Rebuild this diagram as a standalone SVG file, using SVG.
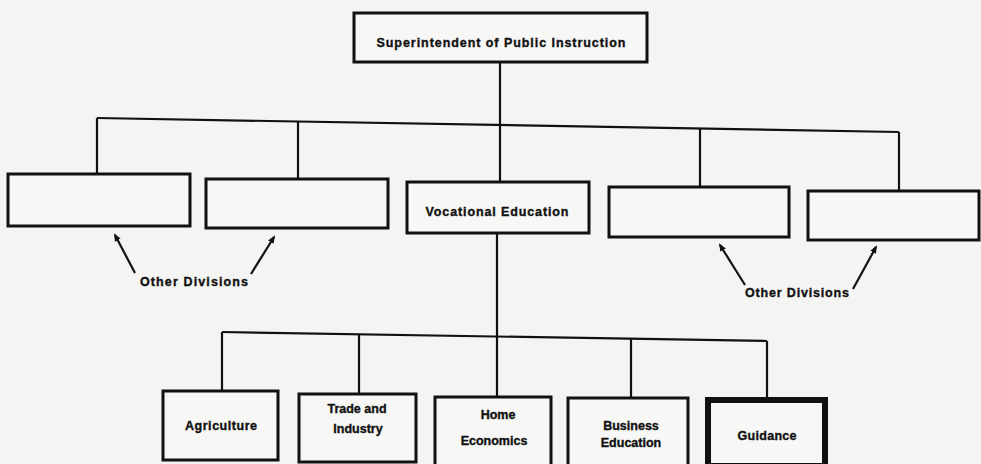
<svg xmlns="http://www.w3.org/2000/svg" width="981" height="464" viewBox="0 0 981 464">
<style>
.box{fill:#f7f7f5;stroke:#111;stroke-width:3}
.thick{fill:#f7f7f5;stroke:#111;stroke-width:6}
.con{fill:none;stroke:#111;stroke-width:2.2}
.ptr{fill:none;stroke:#111;stroke-width:2.2;marker-end:url(#ah)}
text{font-family:"Liberation Sans",Arial,sans-serif;font-weight:bold;font-size:12.5px;fill:#111;stroke:#111;stroke-width:0.35;text-anchor:middle}
</style>
<defs>
<marker id="ah" markerWidth="8" markerHeight="8" refX="6" refY="4" orient="auto" markerUnits="userSpaceOnUse">
<path d="M0,0.8 L8,4 L0,7.2 Z" fill="#111"/>
</marker>
</defs>
<rect width="981" height="464" fill="#f4f4f2"/>
<g id="connectors">
<line class="con" x1="500" y1="62" x2="500" y2="182"/>
<line class="con" x1="97" y1="118" x2="899" y2="132"/>
<line class="con" x1="97" y1="118" x2="97" y2="174"/>
<line class="con" x1="298" y1="121" x2="298" y2="179"/>
<line class="con" x1="700" y1="128" x2="700" y2="187"/>
<line class="con" x1="899" y1="132" x2="899" y2="191"/>
<line class="con" x1="497" y1="233" x2="497" y2="397"/>
<line class="con" x1="222" y1="332" x2="767" y2="341"/>
<line class="con" x1="222" y1="332" x2="222" y2="391"/>
<line class="con" x1="359" y1="334" x2="359" y2="394"/>
<line class="con" x1="631" y1="339" x2="631" y2="398"/>
<line class="con" x1="767" y1="341" x2="767" y2="399"/>
<line class="ptr" x1="135" y1="273" x2="115" y2="235"/>
<line class="ptr" x1="251" y1="274" x2="274" y2="237"/>
<line class="ptr" x1="745" y1="285" x2="720" y2="245"/>
<line class="ptr" x1="853" y1="289" x2="876" y2="247"/>
</g>
<g id="superintendent"><rect class="box" x="354" y="13" width="293" height="49"/><text x="501" y="47" textLength="249" lengthAdjust="spacing">Superintendent of Public Instruction</text></g>
<g id="division1"><rect class="box" x="8" y="174" width="182" height="52"/></g>
<g id="division2"><rect class="box" x="206" y="179" width="182" height="49"/></g>
<g id="vocational"><rect class="box" x="407" y="182" width="182" height="51"/><text x="497" y="216" textLength="143" lengthAdjust="spacing">Vocational Education</text></g>
<g id="division4"><rect class="box" x="609" y="187" width="180" height="50"/></g>
<g id="division5"><rect class="box" x="808" y="191" width="171" height="49"/></g>
<g id="other-left"><text x="194" y="286" textLength="108" lengthAdjust="spacing">Other Divisions</text></g>
<g id="other-right"><text x="797" y="297" textLength="104" lengthAdjust="spacing">Other Divisions</text></g>
<g id="agriculture"><rect class="box" x="163" y="391" width="115" height="69"/><text x="221" y="430" textLength="72" lengthAdjust="spacing">Agriculture</text></g>
<g id="trade"><rect class="box" x="299" y="394" width="117" height="68"/><text x="357" y="413">Trade and</text><text x="358" y="433">Industry</text></g>
<g id="home"><rect class="box" x="435" y="397" width="116" height="69"/><text x="498" y="419">Home</text><text x="494" y="445">Economics</text></g>
<g id="business"><rect class="box" x="568" y="398" width="120" height="68"/><text x="631" y="430">Business</text><text x="631" y="447">Education</text></g>
<g id="guidance"><rect class="thick" x="708" y="400" width="117" height="66"/><text x="767" y="440" textLength="59" lengthAdjust="spacing">Guidance</text></g>
</svg>
